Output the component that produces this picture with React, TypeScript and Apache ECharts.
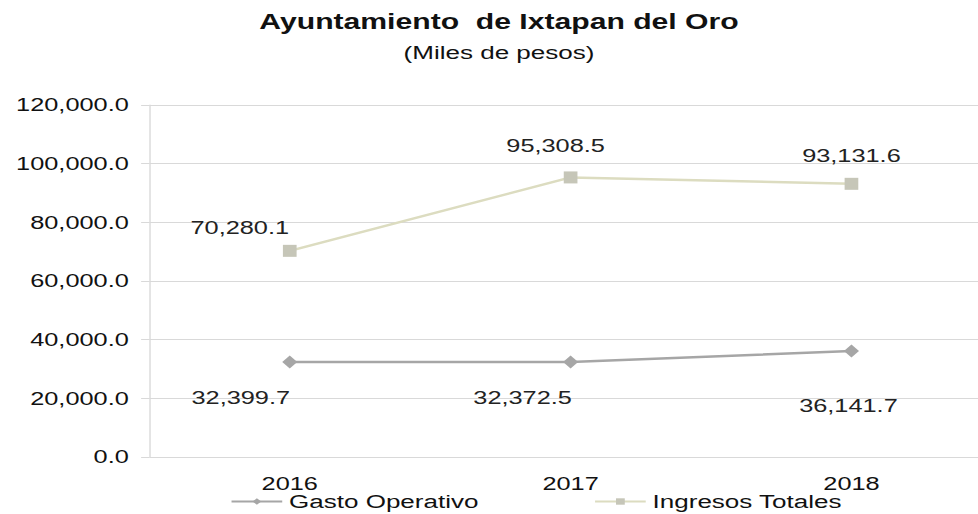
import React, { useEffect, useRef } from "react";
import * as echarts from "echarts";

const years = ["2016", "2017", "2018"];
const gastoOperativo = [32399.7, 32372.5, 36141.7];
const ingresosTotales = [70280.1, 95308.5, 93131.6];
const yTicks = [0, 20000, 40000, 60000, 80000, 100000, 120000];

const fmt = (v: number) =>
  v.toLocaleString("en-US", { minimumFractionDigits: 1, maximumFractionDigits: 1 });

// horizontal stretch of the reference picture
const SX = 1.37;
const W = 978;
const H = 514;
const IW = W / SX;

// label offsets in reference pixels [dx, dy]
const gastoOffsets = [[-49, 36], [-48, 36], [-3, 55]];
const ingresosOffsets = [[-50, -23], [-15, -32], [0, -28]];

export default function App() {
  const ref = useRef<HTMLDivElement>(null);
  useEffect(() => {
    const chart = echarts.init(ref.current!, null, { renderer: "svg" });
    const font = "Liberation Sans, Arial, sans-serif";
    const mkLabel = (v: number, off: number[]) => ({
      show: true,
      position: "inside",
      offset: [off[0] / SX, off[1]],
      formatter: fmt(v),
      fontFamily: font,
      fontSize: 18.5,
      color: "#222",
    });
    chart.setOption({
      animation: false,
      backgroundColor: "#ffffff",
      title: {
        text: "Ayuntamiento  de Ixtapan del Oro",
        subtext: "(Miles de pesos)",
        left: 499 / SX,
        textAlign: "center",
        top: 10,
        padding: 0,
        itemGap: 11,
        textStyle: { fontFamily: font, fontSize: 22, fontWeight: "bold", color: "#111" },
        subtextStyle: { fontFamily: font, fontSize: 19, color: "#111" },
      },
      grid: {
        left: 109,
        width: 615,
        top: 105,
        bottom: 57,
        containLabel: false,
        outerBoundsMode: "none",
      },
      legend: {
        top: 487,
        left: 163,
        itemGap: 84,
        itemWidth: 37,
        itemHeight: 8,
        textStyle: { fontFamily: font, fontSize: 19, color: "#111" },
        data: ["Gasto Operativo", "Ingresos Totales"],
      },
      xAxis: {
        type: "category",
        data: years,
        axisLine: { show: false },
        axisTick: { show: false },
        axisLabel: { fontFamily: font, fontSize: 18.5, color: "#111", margin: 17 },
      },
      yAxis: {
        type: "value",
        min: yTicks[0],
        max: yTicks[yTicks.length - 1],
        interval: 20000,
        axisLine: { show: true, lineStyle: { color: "#d9d9d9" } },
        axisTick: { show: true, length: 6, lineStyle: { color: "#d9d9d9" } },
        splitLine: { lineStyle: { color: "#d9d9d9" } },
        axisLabel: {
          fontFamily: font,
          fontSize: 18.5,
          color: "#111",
          margin: 15,
          formatter: (v: number) => fmt(v),
        },
      },
      series: [
        {
          name: "Gasto Operativo",
          type: "line",
          symbol: "diamond",
          symbolSize: [11, 13],
          color: "#a6a6a6",
          lineStyle: { color: "#a6a6a6", width: 2.5 },
          itemStyle: { color: "#a6a6a6" },
          data: gastoOperativo.map((v, i) => ({ value: v, label: mkLabel(v, gastoOffsets[i]) })),
        },
        {
          name: "Ingresos Totales",
          type: "line",
          symbol: "rect",
          symbolSize: [10, 12],
          color: "#c6c6b8",
          lineStyle: { color: "#dcdcc0", width: 2.5 },
          itemStyle: { color: "#c6c6b8" },
          data: ingresosTotales.map((v, i) => ({ value: v, label: mkLabel(v, ingresosOffsets[i]) })),
        },
      ],
    });
    return () => chart.dispose();
  }, []);
  return (
    <div style={{ width: W, height: H, position: "absolute", left: 0, top: 0, overflow: "hidden", background: "#fff" }}>
      <div
        ref={ref}
        style={{ width: IW, height: H, transform: `scaleX(${SX})`, transformOrigin: "0 0" }}
      />
    </div>
  );
}
